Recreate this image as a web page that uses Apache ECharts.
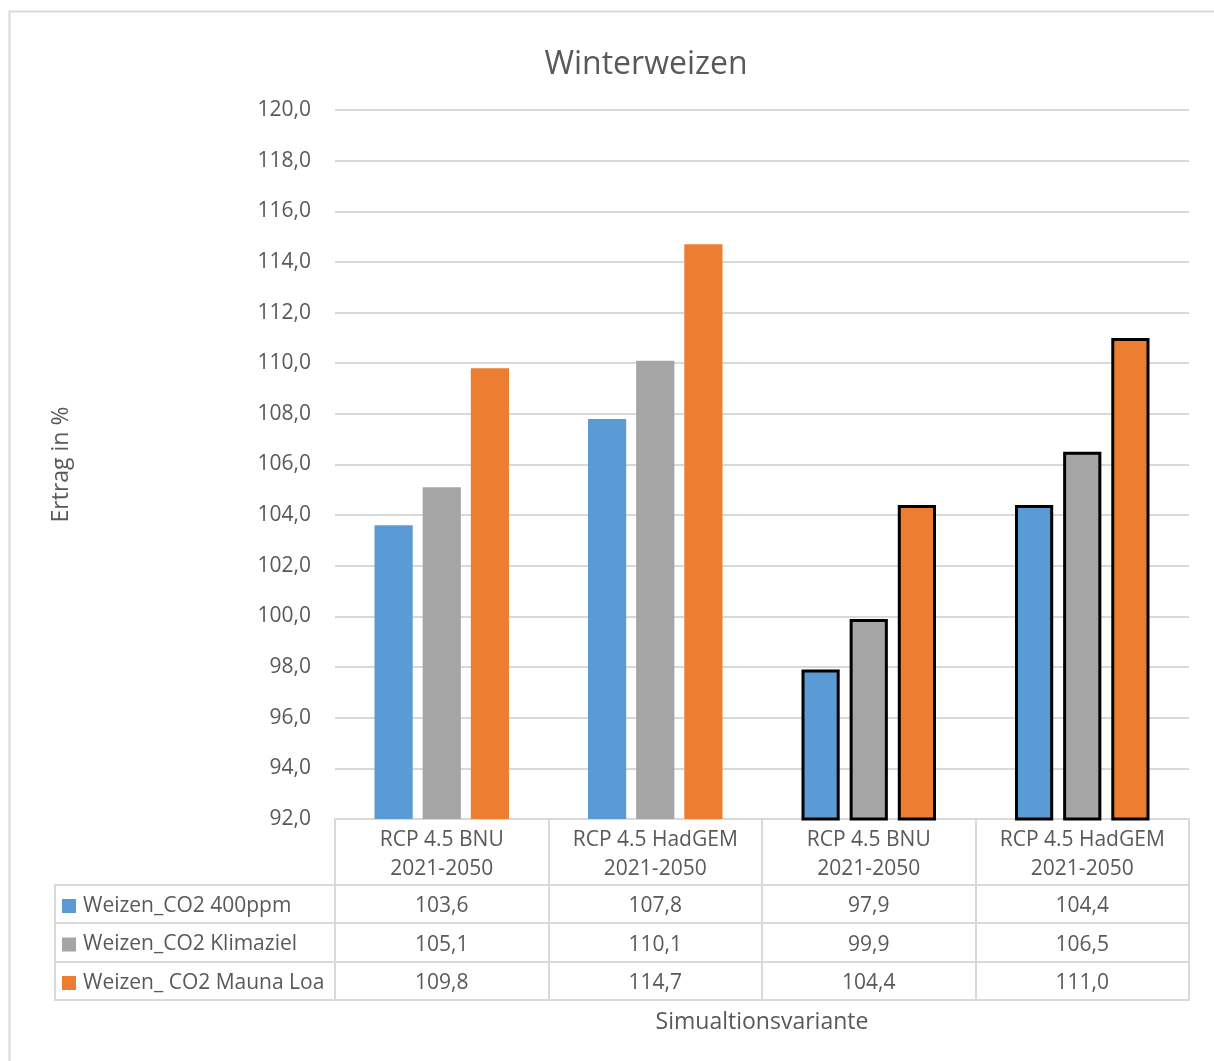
<!DOCTYPE html>
<html>
<head>
<meta charset="utf-8">
<title>Winterweizen</title>
<script src="https://cdn.jsdelivr.net/npm/echarts@6/dist/echarts.min.js"></script>
<style>
  html, body { margin: 0; padding: 0; background: #ffffff; }
  #chart { width: 1214px; height: 1061px; }
</style>
</head>
<body>
<div id="chart"></div>
<script>
// Yield of winter wheat per simulation variant (percent)
const categories = [
  'RCP 4.5 BNU\n2021-2050',
  'RCP 4.5 HadGEM\n2021-2050',
  'RCP 4.5 BNU\n2021-2050',
  'RCP 4.5 HadGEM\n2021-2050'
];
const seriesNames = ['Weizen_CO2 400ppm', 'Weizen_CO2 Klimaziel', 'Weizen_ CO2 Mauna Loa'];
const co2_400ppm   = [103.6, 107.8, 97.9, 104.4];
const co2_klimaziel = [105.1, 110.1, 99.9, 106.5];
const co2_maunaLoa = [109.8, 114.7, 104.4, 111.0];
const outlinedGroups = [false, false, true, true];
const yTicks = { min: 92, max: 120, step: 2 };

const colors = ['#5b9bd5', '#a5a5a5', '#ed7d31'];
const textColor = '#595959';
const lineColor = '#d9d9d9';
const fontFamily = '"Open Sans", "Noto Sans", sans-serif';
const labelSize = 21;

const fmt = v => v.toFixed(1).replace('.', ',');

function barData(values) {
  return values.map((v, i) => outlinedGroups[i]
    ? { value: v, itemStyle: { borderColor: '#000000', borderWidth: 3 } }
    : v);
}

const seriesValues = [co2_400ppm, co2_klimaziel, co2_maunaLoa];

// table row axes: one category axis per series, labels show the values
const rowOffsets = [104, 143, 181];
const rowAxes = seriesValues.map((vals, k) => ({
  type: 'category',
  gridIndex: 0,
  position: 'bottom',
  offset: rowOffsets[k],
  data: vals.map(fmt),
  axisLine: { show: true, lineStyle: { color: lineColor, width: 2 } },
  axisTick: { show: false },
  axisLabel: {
    show: true, interval: 0, margin: -17, verticalAlign: 'middle',
    color: textColor, fontSize: labelSize, fontFamily: fontFamily
  },
  splitLine: { show: false }
}));
// x axis title on the last row axis
Object.assign(rowAxes[2], {
  name: 'Simualtionsvariante',
  nameLocation: 'middle',
  nameGap: 11,
  nameMoveOverlap: false,
  nameTextStyle: { color: textColor, fontSize: 23, fontFamily: fontFamily, verticalAlign: 'top' }
});

const chart = echarts.init(document.getElementById('chart'), null, { renderer: 'canvas' });

const gridLeft = 335, gridRight = 25, gridTop = 110, gridBottom = 242;

const option = {
  backgroundColor: '#ffffff',
  animation: false,
  title: {
    text: 'Winterweizen',
    left: 641, top: 44, textAlign: 'center',
    textStyle: { color: textColor, fontSize: 32, fontWeight: 'normal', fontFamily: fontFamily }
  },
  legend: {
    orient: 'vertical',
    left: 62, top: 895,
    padding: 0,
    itemWidth: 14, itemHeight: 14, itemGap: 16.5,
    icon: 'rect',
    selectedMode: false,
    data: seriesNames,
    textStyle: { color: textColor, fontSize: labelSize, lineHeight: 22, fontFamily: fontFamily, padding: [0, 0, 0, 2] }
  },
  grid: { left: gridLeft, right: gridRight, top: gridTop, bottom: gridBottom, containLabel: false },
  xAxis: [
    {
      type: 'category',
      data: categories,
      position: 'bottom',
      axisLine: { show: true, lineStyle: { color: lineColor, width: 2 } },
      axisTick: { show: true, alignWithLabel: false, interval: 0, length: 181, lineStyle: { color: lineColor, width: 2 } },
      axisLabel: {
        interval: 0, margin: 7, color: textColor, fontSize: labelSize, lineHeight: 29, fontFamily: fontFamily
      },
      splitLine: { show: false }
    },
    {
      // separator line below the category labels
      type: 'category',
      position: 'bottom',
      offset: 66,
      data: categories,
      axisLine: { show: true, lineStyle: { color: lineColor, width: 2 } },
      axisTick: { show: false },
      axisLabel: { show: false }
    }
  ].concat(rowAxes),
  yAxis: {
    type: 'value',
    min: yTicks.min, max: yTicks.max, interval: yTicks.step,
    name: 'Ertrag in %',
    nameLocation: 'middle',
    nameGap: 262,
    nameMoveOverlap: false,
    nameTextStyle: { color: textColor, fontSize: 23, fontFamily: fontFamily },
    axisLine: { show: false },
    axisTick: { show: false },
    axisLabel: {
      margin: 24, color: textColor, fontSize: labelSize, fontFamily: fontFamily,
      formatter: v => fmt(v)
    },
    splitLine: { show: true, lineStyle: { color: lineColor, width: 2 } }
  },
  series: seriesValues.map((vals, k) => ({
    name: seriesNames[k],
    type: 'bar',
    xAxisIndex: 0,
    data: barData(vals),
    barGap: '26%',
    barCategoryGap: '37%',
    itemStyle: { color: colors[k] }
  })),
  graphic: []
};

chart.setOption(option);

// left column of the data table and the outer frame
const rowLines = [885, 923, 962, 1000];
const graphics = [
  {
    type: 'rect', silent: true, z: -1,
    shape: { x: 9.5, y: 11.5, width: 1400, height: 1200 },
    style: { fill: 'none', stroke: lineColor, lineWidth: 2 }
  },
  {
    type: 'line', silent: true,
    shape: { x1: 55, y1: rowLines[0], x2: 55, y2: rowLines[3] },
    style: { stroke: lineColor, lineWidth: 2 }
  }
].concat(rowLines.map(y => ({
  type: 'line', silent: true,
  shape: { x1: 54, y1: y, x2: gridLeft, y2: y },
  style: { stroke: lineColor, lineWidth: 2 }
})));
chart.setOption({ graphic: graphics });
</script>
</body>
</html>
